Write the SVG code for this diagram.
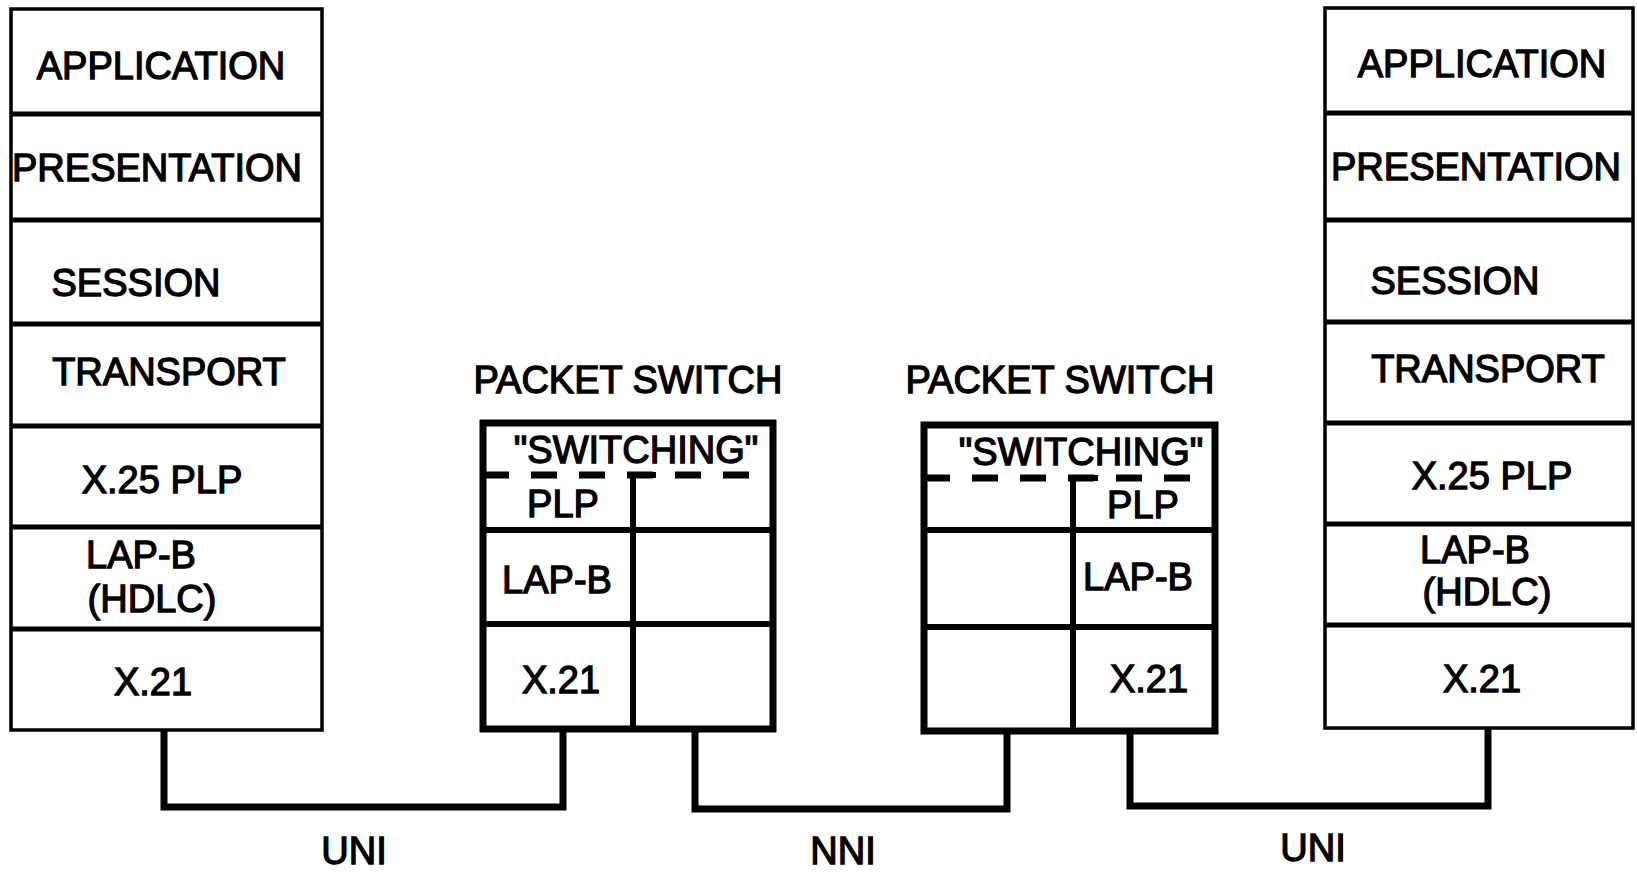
<svg xmlns="http://www.w3.org/2000/svg" width="1637" height="873" viewBox="0 0 1637 873">
<style>
  text { font-family: "Liberation Sans", Arial, sans-serif; font-size: 38px; fill: #000; stroke: #000; stroke-width: 1.3px; text-anchor: middle; }
  .outer { fill: #fff; stroke: #000; stroke-width: 3.5; }
  .div { stroke: #000; stroke-width: 5; fill: none; }
  .sw { fill: #fff; stroke: #000; stroke-width: 7; }
  .swl { stroke: #000; stroke-width: 6; fill: none; }
  .dash { stroke: #000; stroke-width: 7; fill: none; stroke-dasharray: 26 22; }
  .conn { stroke: #000; stroke-width: 7; fill: none; stroke-linejoin: miter; }
</style>
<rect width="1637" height="873" fill="#fff"/>

<g id="connectors">
  <path class="conn" d="M164,730 V807 H563 V729"/>
  <path class="conn" d="M695,729 V809 H1007 V731"/>
  <path class="conn" d="M1130,731 V806 H1488 V728"/>
</g>

<g id="left-stack">
  <rect class="outer" x="11" y="9" width="311" height="721"/>
  <line class="div" x1="11" y1="114" x2="322" y2="114"/>
  <line class="div" x1="11" y1="220" x2="322" y2="220"/>
  <line class="div" x1="11" y1="324" x2="322" y2="324"/>
  <line class="div" x1="11" y1="426" x2="322" y2="426"/>
  <line class="div" x1="11" y1="527" x2="322" y2="527"/>
  <line class="div" x1="11" y1="629" x2="322" y2="629"/>
  <text x="161" y="79">APPLICATION</text>
  <text x="157" y="181">PRESENTATION</text>
  <text x="136" y="296">SESSION</text>
  <text x="169" y="385">TRANSPORT</text>
  <text x="162" y="493">X.25 PLP</text>
  <text x="141" y="568">LAP-B</text>
  <text x="152" y="612">(HDLC)</text>
  <text x="153" y="695">X.21</text>
</g>

<g id="packet-switch-1">
  <text x="628" y="393">PACKET SWITCH</text>
  <rect class="sw" x="483" y="423" width="290" height="306"/>
  <line class="dash" x1="483" y1="475" x2="773" y2="475"/>
  <line class="swl" x1="633" y1="472" x2="633" y2="729"/>
  <line class="swl" x1="630" y1="475" x2="656" y2="475"/>
  <line class="swl" x1="483" y1="530" x2="773" y2="530"/>
  <line class="swl" x1="483" y1="624" x2="773" y2="624"/>
  <text x="636" y="463">"SWITCHING"</text>
  <text x="563" y="517">PLP</text>
  <text x="557" y="593">LAP-B</text>
  <text x="561" y="693">X.21</text>
</g>

<g id="packet-switch-2">
  <text x="1060" y="393">PACKET SWITCH</text>
  <rect class="sw" x="924" y="425" width="291" height="306"/>
  <line class="dash" x1="924" y1="478" x2="1215" y2="478"/>
  <line class="swl" x1="1073" y1="475" x2="1073" y2="731"/>
  <line class="swl" x1="1070" y1="478" x2="1098" y2="478"/>
  <line class="swl" x1="924" y1="530" x2="1215" y2="530"/>
  <line class="swl" x1="924" y1="627" x2="1215" y2="627"/>
  <text x="1081" y="465">"SWITCHING"</text>
  <text x="1143" y="518">PLP</text>
  <text x="1138" y="590">LAP-B</text>
  <text x="1149" y="692">X.21</text>
</g>

<g id="right-stack">
  <rect class="outer" x="1325" y="8" width="308" height="720"/>
  <line class="div" x1="1325" y1="113" x2="1633" y2="113"/>
  <line class="div" x1="1325" y1="220" x2="1633" y2="220"/>
  <line class="div" x1="1325" y1="322" x2="1633" y2="322"/>
  <line class="div" x1="1325" y1="423" x2="1633" y2="423"/>
  <line class="div" x1="1325" y1="524" x2="1633" y2="524"/>
  <line class="div" x1="1325" y1="625" x2="1633" y2="625"/>
  <text x="1482" y="77">APPLICATION</text>
  <text x="1476" y="180">PRESENTATION</text>
  <text x="1455" y="294">SESSION</text>
  <text x="1488" y="382">TRANSPORT</text>
  <text x="1492" y="489">X.25 PLP</text>
  <text x="1475" y="563">LAP-B</text>
  <text x="1487" y="605">(HDLC)</text>
  <text x="1482" y="692">X.21</text>
</g>

<g id="labels">
  <text x="354" y="864">UNI</text>
  <text x="843" y="864">NNI</text>
  <text x="1313" y="861">UNI</text>
</g>
</svg>
